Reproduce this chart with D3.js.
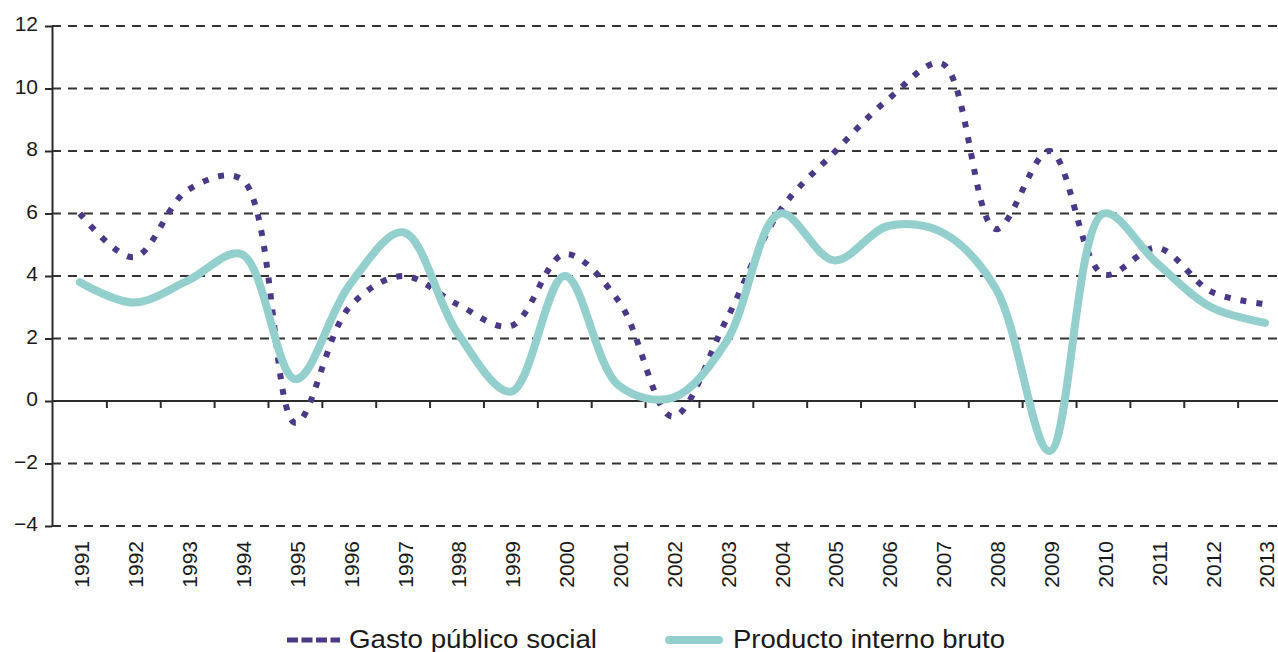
<!DOCTYPE html>
<html>
<head>
<meta charset="utf-8">
<script src="https://cdn.jsdelivr.net/npm/d3@7"></script>
<style>
  body { margin: 0; background: #fff; }
  svg { display: block; font-family: "Liberation Sans", Arial, sans-serif; }
</style>
</head>
<body>
<svg id="chart" width="1278" height="652"></svg>
<script>
// Years on the x axis
const years = d3.range(1991, 2014).map(String);

// Gasto público social (dotted purple)
const gasto = [6.0, 4.6, 6.75, 7.1, -0.7, 3.0, 4.0, 3.1, 2.4, 4.7, 3.2, -0.5,
  2.6, 6.1, 7.95, 9.65, 10.8, 5.5, 8.0, 4.05, 4.9, 3.5, 3.1];

// Producto interno bruto (solid teal)
const pib = [3.8, 3.15, 3.85, 4.7, 0.7, 3.7, 5.4, 2.2, 0.3, 4.0, 0.5, 0.1,
  1.9, 6.0, 4.5, 5.6, 5.4, 3.6, -1.6, 6.0, 4.4, 3.0, 2.5];

const yTicks = [-4, -2, 0, 2, 4, 6, 8, 10, 12];

const legendNames = ['Gasto público social', 'Producto interno bruto'];

const purple = '#4b3987';
const teal = '#93cfcc';
const axisColor = '#2b2b2b';

const svg = d3.select('#chart');

// Scales
const x = d3.scaleBand().domain(years).range([53, 1292]);
const y = d3.scaleLinear().domain([-4, 12]).range([526, 26]);
const cx = d => x(d) + x.bandwidth() / 2;

// Dashed horizontal gridlines (not at zero, the axis sits there)
svg.append('g')
  .selectAll('line')
  .data(yTicks.filter(v => v !== 0))
  .enter()
  .append('line')
  .attr('x1', 52)
  .attr('x2', 1278)
  .attr('y1', d => y(d))
  .attr('y2', d => y(d))
  .attr('stroke', '#333')
  .attr('stroke-width', 2)
  .attr('stroke-dasharray', '9,7');

// Y axis
const yAxis = svg.append('g')
  .attr('transform', 'translate(52,0)')
  .call(d3.axisLeft(y).tickValues(yTicks).tickSize(7).tickPadding(7).tickSizeOuter(0));
yAxis.select('.domain').attr('stroke', axisColor).attr('stroke-width', 2);
yAxis.selectAll('.tick line').attr('stroke', axisColor).attr('stroke-width', 2);
yAxis.selectAll('.tick text')
  .attr('font-size', 21)
  .attr('font-family', '"Liberation Sans", Arial, sans-serif')
  .attr('fill', '#1a1a1a')
  .attr('dy', '0.22em');

// X axis line at zero
svg.append('line')
  .attr('x1', 52)
  .attr('x2', 1278)
  .attr('y1', y(0))
  .attr('y2', y(0))
  .attr('stroke', axisColor)
  .attr('stroke-width', 2);

// Tick marks at the category boundaries
svg.append('g')
  .selectAll('line')
  .data(years.slice(1))
  .enter()
  .append('line')
  .attr('x1', d => x(d))
  .attr('x2', d => x(d))
  .attr('y1', y(0))
  .attr('y2', y(0) + 7)
  .attr('stroke', axisColor)
  .attr('stroke-width', 2);

// Year labels, rotated
svg.append('g')
  .selectAll('text')
  .data(years)
  .enter()
  .append('text')
  .attr('transform', d => `translate(${cx(d) + 2},541) rotate(-90)`)
  .attr('text-anchor', 'end')
  .attr('dy', '0.35em')
  .attr('font-size', 21)
  .attr('fill', '#1a1a1a')
  .text(d => d);

// Lines
const line = d3.line()
  .x((d, i) => cx(years[i]))
  .y(d => y(d))
  .curve(d3.curveCatmullRom.alpha(0.5));

svg.append('path')
  .datum(gasto)
  .attr('d', line)
  .attr('fill', 'none')
  .attr('stroke', purple)
  .attr('stroke-width', 6)
  .attr('stroke-dasharray', '6,10');

svg.append('path')
  .datum(pib)
  .attr('d', line)
  .attr('fill', 'none')
  .attr('stroke', teal)
  .attr('stroke-width', 8)
  .attr('stroke-linecap', 'round');

// Legend
const legend = svg.append('g');
legend.append('line')
  .attr('x1', 287).attr('x2', 340)
  .attr('y1', 640).attr('y2', 640)
  .attr('stroke', purple)
  .attr('stroke-width', 5)
  .attr('stroke-dasharray', '11,3.5');
legend.append('text')
  .attr('x', 349).attr('y', 648)
  .attr('font-size', 25)
  .attr('fill', '#1a1a1a')
  .attr('textLength', 248)
  .attr('lengthAdjust', 'spacingAndGlyphs')
  .text(legendNames[0]);

legend.append('line')
  .attr('x1', 669).attr('x2', 719)
  .attr('y1', 640).attr('y2', 640)
  .attr('stroke', teal)
  .attr('stroke-width', 8)
  .attr('stroke-linecap', 'round');
legend.append('text')
  .attr('x', 733).attr('y', 648)
  .attr('font-size', 25)
  .attr('fill', '#1a1a1a')
  .attr('textLength', 272)
  .attr('lengthAdjust', 'spacingAndGlyphs')
  .text(legendNames[1]);
</script>
</body>
</html>
